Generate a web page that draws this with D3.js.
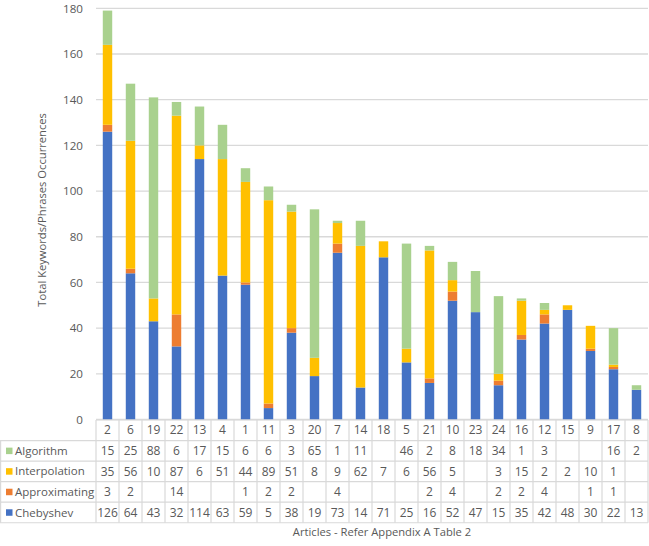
<!DOCTYPE html>
<html><head><meta charset="utf-8">
<script src="https://cdn.jsdelivr.net/npm/d3@7/dist/d3.min.js"></script>
<style>body{margin:0;background:#fff;}svg{display:block;}</style>
</head><body>
<svg id="c" width="649" height="546"></svg>
<script>
const categories = ["2","6","19","22","13","4","1","11","3","20","7","14","18","5","21","10","23","24","16","12","15","9","17","8"];
const chebyshev =     [126,64,43,32,114,63,59,5,38,19,73,14,71,25,16,52,47,15,35,42,48,30,22,13];
const approximating = [3,2,null,14,null,null,1,2,2,null,4,null,null,null,2,4,null,2,2,4,null,1,1,null];
const interpolation = [35,56,10,87,6,51,44,89,51,8,9,62,7,6,56,5,null,3,15,2,2,10,1,null];
const algorithm =     [15,25,88,6,17,15,6,6,3,65,1,11,null,46,2,8,18,34,1,3,null,null,16,2];
const yTicks = [0,20,40,60,80,100,120,140,160,180];

const series = [
  {name:"Chebyshev", values:chebyshev, color:"#4472C4"},
  {name:"Approximating", values:approximating, color:"#ED7D31"},
  {name:"Interpolation", values:interpolation, color:"#FFC000"},
  {name:"Algorithm", values:algorithm, color:"#A9D18E"}
];
const tableOrder = [series[3], series[2], series[1], series[0]];

const font = "'Open Sans', 'Noto Sans', sans-serif";
const textColor = "#595959";
const gridColor = "#d9d9d9";

const svg = d3.select("#c");
const pLeft = 96, pRight = 648, pTop = 8.3, pBottom = 419.5;
const x = d3.scaleBand().domain(categories).range([pLeft, pRight]).paddingInner(0.59).paddingOuter(0.295);
const xc = d3.scaleBand().domain(categories).range([pLeft, pRight]);
const y = d3.scaleLinear().domain([0,180]).range([pBottom, pTop]);

// gridlines
svg.append("g").selectAll("line").data(yTicks).join("line")
  .attr("x1", pLeft).attr("x2", pRight)
  .attr("y1", d=>y(d)).attr("y2", d=>y(d))
  .attr("stroke", gridColor).attr("stroke-width", 1.3);

// y axis labels
const yAxis = d3.axisLeft(y).tickValues(yTicks).tickSize(0).tickPadding(0);
const ya = svg.append("g").attr("transform", `translate(${83},0)`).call(yAxis);
ya.select(".domain").remove();
ya.selectAll("text").attr("font-family", font).attr("font-size", 11.6).attr("fill", textColor);

// stack
const rows = categories.map((c,i)=>{ const o={cat:c}; series.forEach(s=>o[s.name]=s.values[i]||0); return o; });
const stack = d3.stack().keys(series.map(s=>s.name))(rows);
svg.append("g").selectAll("g").data(stack).join("g")
  .attr("fill", (d,i)=>series[i].color)
  .selectAll("rect").data(d=>d).join("rect")
  .attr("x", d=>x(d.data.cat)).attr("width", x.bandwidth())
  .attr("y", d=>y(d[1])).attr("height", d=>y(d[0])-y(d[1]));

// data table
const rowH = 20.55;
const t0 = 420;
const tg = svg.append("g");
for (let r=0; r<=5; r++) {
  const yy = t0 + r*rowH;
  tg.append("line").attr("x1", r===0 ? pLeft : 0).attr("x2", pRight)
    .attr("y1", yy).attr("y2", yy).attr("stroke", gridColor).attr("stroke-width", 1.2);
}
categories.forEach((c,i)=>{
  tg.append("line").attr("x1", xc(c)).attr("x2", xc(c)).attr("y1", t0).attr("y2", t0+5*rowH)
    .attr("stroke", gridColor).attr("stroke-width", 1.2);
});
tg.append("line").attr("x1", pRight).attr("x2", pRight).attr("y1", t0).attr("y2", t0+5*rowH).attr("stroke", gridColor).attr("stroke-width", 1.2);
tg.append("line").attr("x1", 0.6).attr("x2", 0.6).attr("y1", t0+rowH).attr("y2", t0+5*rowH).attr("stroke", gridColor).attr("stroke-width", 1.2);

tg.selectAll("text.cat").data(categories).join("text").attr("class","cat")
  .attr("x", d=>xc(d)+xc.bandwidth()/2).attr("y", t0+rowH/2).attr("dy","0.35em")
  .attr("text-anchor","middle").attr("font-family", font).attr("font-size", 12).attr("fill", textColor)
  .text(d=>d);

tableOrder.forEach((s,r)=>{
  const cy = t0 + (r+1)*rowH + rowH/2;
  tg.append("rect").attr("x", 6).attr("y", cy-3.2).attr("width", 6.5).attr("height", 6.5).attr("fill", s.color);
  tg.append("text").attr("x", 15).attr("y", cy).attr("dy","0.35em")
    .attr("font-family", font).attr("font-size", 11.5).attr("fill", textColor).text(s.name);
  tg.selectAll(null).data(categories).join("text")
    .attr("x", d=>xc(d)+xc.bandwidth()/2).attr("y", cy).attr("dy","0.35em")
    .attr("text-anchor","middle").attr("font-family", font).attr("font-size", 12).attr("fill", textColor)
    .text((d,i)=> s.values[i]==null ? "" : s.values[i]);
});

svg.append("text").attr("transform", `translate(46,${(pTop+pBottom)/2 - 4}) rotate(-90)`)
  .attr("text-anchor","middle").attr("font-family", font).attr("font-size", 11.2).attr("fill", textColor)
  .text("Total Keywords/Phrases Occurrences");
svg.append("text").attr("x", 382).attr("y", 536)
  .attr("text-anchor","middle").attr("font-family", font).attr("font-size", 11.2).attr("fill", textColor)
  .text("Articles -  Refer Appendix A Table 2");
</script>
</body></html>
